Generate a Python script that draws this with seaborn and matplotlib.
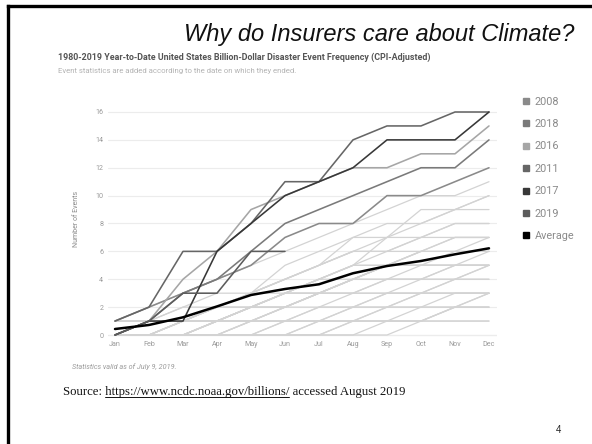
import matplotlib
matplotlib.use("Agg")
import matplotlib.pyplot as plt
import seaborn as sns
import pandas as pd
from matplotlib.lines import Line2D

# ---------------- data ----------------
months = ["Jan", "Feb", "Mar", "Apr", "May", "Jun",
          "Jul", "Aug", "Sep", "Oct", "Nov", "Dec"]

y2008 = [1, 2, 3, 4, 5, 7, 8, 8, 10, 10, 11, 12]
y2018 = [0, 1, 3, 4, 6, 8, 9, 10, 11, 12, 12, 14]
y2016 = [0, 1, 4, 6, 9, 10, 11, 12, 12, 13, 13, 15]
y2011 = [1, 2, 6, 6, 8, 11, 11, 14, 15, 15, 16, 16]
y2017 = [0, 1, 1, 6, 8, 10, 11, 12, 14, 14, 14, 16]
y2019 = [0, 1, 3, 3, 6, 6]
average = [0.43, 0.72, 1.27, 2.05, 2.87, 3.3, 3.64, 4.43, 4.95, 5.31, 5.79, 6.22]

legend_labels = ["2008", "2018", "2016", "2011", "2017", "2019", "Average"]

# other years (light grey background lines)
other_years = [
    [1, 2, 3, 4, 5, 6, 7, 8, 9, 10, 10, 11],
    [0, 1, 1, 2, 3, 5, 6, 7, 8, 8, 9, 10],
    [0, 0, 1, 2, 3, 4, 5, 6, 7, 8, 9, 10],
    [0, 0, 1, 1, 2, 3, 4, 5, 7, 9, 9, 9],
    [1, 1, 1, 2, 3, 4, 5, 6, 6, 7, 8, 8],
    [0, 1, 2, 3, 3, 4, 5, 7, 7, 7, 8, 8],
    [0, 0, 0, 1, 2, 3, 4, 5, 5, 6, 6, 7],
    [0, 0, 1, 1, 2, 3, 3, 4, 5, 6, 7, 7],
    [0, 0, 0, 1, 1, 2, 3, 4, 5, 5, 5, 6],
    [0, 1, 1, 2, 2, 3, 3, 4, 5, 5, 6, 6],
    [0, 0, 1, 1, 2, 2, 3, 3, 4, 4, 5, 5],
    [0, 0, 0, 0, 1, 2, 3, 4, 5, 5, 5, 5],
    [0, 0, 0, 0, 0, 0, 0, 1, 2, 3, 4, 5],
    [0, 0, 0, 1, 2, 2, 3, 3, 4, 4, 5, 5],
    [1, 1, 1, 1, 2, 2, 3, 4, 4, 4, 4, 4],
    [0, 0, 0, 0, 1, 1, 2, 3, 3, 4, 4, 4],
    [0, 0, 0, 1, 1, 2, 2, 2, 3, 3, 3, 3],
    [0, 0, 1, 1, 1, 2, 3, 3, 3, 3, 3, 3],
    [0, 0, 0, 0, 0, 1, 2, 2, 3, 3, 3, 3],
    [0, 0, 0, 0, 1, 1, 1, 2, 2, 2, 2, 2],
    [0, 0, 0, 1, 1, 1, 1, 1, 2, 2, 2, 2],
    [0, 0, 0, 0, 0, 0, 1, 1, 1, 1, 1, 1],
    [0, 0, 0, 0, 0, 1, 1, 1, 1, 1, 1, 1],
    [1, 1, 1, 1, 1, 1, 1, 1, 1, 1, 2, 3],
    [0, 0, 0, 0, 0, 0, 1, 2, 2, 3, 4, 5],
    [0, 1, 1, 1, 2, 3, 4, 4, 5, 6, 6, 6],
    [0, 0, 1, 2, 3, 4, 5, 6, 6, 6, 7, 7],
    [0, 0, 0, 0, 0, 0, 0, 0, 1, 2, 3, 3],
    [0, 0, 0, 0, 0, 0, 0, 1, 1, 1, 2, 2],
    [0, 0, 0, 0, 0, 0, 0, 0, 0, 1, 2, 3],
    [0, 1, 1, 2, 3, 3, 4, 5, 5, 5, 5, 5],
    [0, 0, 0, 1, 2, 3, 4, 5, 6, 7, 7, 7],
    [1, 1, 2, 2, 2, 3, 3, 4, 4, 5, 5, 5],
]

# ---------------- style ----------------
sns.set_theme(style="white")
plt.rcParams['font.family'] = ['Roboto', 'DejaVu Sans']

W, H = 592, 444
fig = plt.figure(figsize=(W / 100, H / 100), dpi=100)

unit = (335 - 112) / 16.0
x_left, x_right = 108, 497
y_bot = 335 + 0.2 * unit
y_top = 112 - 0.5 * unit
ax = fig.add_axes([x_left / W, 1 - y_bot / H, (x_right - x_left) / W, (y_bot - y_top) / H])

rows = []
for i, series in enumerate(other_years):
    for m, v in enumerate(series):
        rows.append({"year": i, "month": m, "count": v})
bg = pd.DataFrame(rows)
sns.lineplot(data=bg, x="month", y="count", units="year", estimator=None,
             color="#d3d3d3", linewidth=0.9, ax=ax, legend=False)

highlight = [
    (y2008, "#8a8a8a"),
    (y2018, "#7a7a7a"),
    (y2016, "#a6a6a6"),
    (y2011, "#666666"),
    (y2017, "#383838"),
    (y2019, "#5c5c5c"),
]
for vals, col in highlight:
    sns.lineplot(x=list(range(len(vals))), y=vals, color=col, linewidth=1.15, ax=ax)
sns.lineplot(x=list(range(len(average))), y=average, color="black", linewidth=1.8, ax=ax)

ax.set_xlim(-7 / 34, 11 + 8 / 34)
ax.set_ylim(-0.2, 16.5)
ax.set_yticks(range(0, 17, 2))
ax.set_xticks(range(12))
ax.set_xticklabels(months)
ax.yaxis.grid(True, color="#ececec", linewidth=0.8)
ax.xaxis.grid(False)
ax.set_axisbelow(True)
ax.axhline(0, color="#cfcfcf", linewidth=0.8, zorder=0.5)
for s in ax.spines.values():
    s.set_visible(False)
ax.tick_params(axis="both", length=0, labelsize=5.1, labelcolor="#9a9a9a")
ax.tick_params(axis="y", pad=3.5)
ax.tick_params(axis="x", pad=2)
ax.set_xlabel("")
ax.set_ylabel("Number of Events", fontsize=5, color="#8a8a8a")
ax.yaxis.set_label_coords((80 - x_left) / (x_right - x_left), (y_bot - 219) / (y_bot - y_top))

leg_colors = ["#8a8a8a", "#7a7a7a", "#a6a6a6", "#666666", "#383838", "#5c5c5c", "#000000"]
handles = [Line2D([], [], marker="s", linestyle="none", color=c, markersize=4.8) for c in leg_colors]
fig.legend(handles, legend_labels, loc="upper left",
           bbox_to_anchor=(522 / W, 1 - 96.5 / H), bbox_transform=fig.transFigure,
           frameon=False, fontsize=7.8, labelcolor="#8a8a8a", handlelength=0.75,
           handletextpad=0.4, labelspacing=1.15, borderpad=0, borderaxespad=0)

# ---------------- slide texts ----------------
fig.text(379 / W, 1 - 41 / H, "Why do Insurers care about Climate?", ha="center", va="baseline",
         fontsize=17, style="italic", family="Liberation Sans", color="#111111")
fig.text(58 / W, 1 - 60 / H,
         "1980-2019 Year-to-Date United States Billion-Dollar Disaster Event Frequency (CPI-Adjusted)",
         ha="left", va="baseline", fontsize=6.4, fontweight="bold", color="#555555")
fig.text(58 / W, 1 - 73 / H, "Event statistics are added according to the date on which they ended.",
         ha="left", va="baseline", fontsize=5.6, color="#b3b3b3")
fig.text(72 / W, 1 - 368.5 / H, "Statistics valid as of July 9, 2019.", ha="left", va="baseline",
         fontsize=5.2, style="italic", color="#9a9a9a")

src_x = 63 / W
src_y = 1 - 395 / H
src_fs = 9.2
prefix = "Source: "
url = "https://www.ncdc.noaa.gov/billions/"
full = prefix + url + " accessed August 2019"
fig.text(src_x, src_y, full, ha="left", va="baseline", fontsize=src_fs,
         family="Liberation Serif", color="#111111")
fig.canvas.draw()
r = fig.canvas.get_renderer()

def width_of(s):
    t = fig.text(0, 0, s, fontsize=src_fs, family="Liberation Serif")
    w = t.get_window_extent(r).width
    t.remove()
    return w

w_pre = width_of(prefix + "h") - width_of("h")
w_url = width_of(prefix + url)
u0 = src_x + w_pre / W
u1 = src_x + w_url / W
uy = src_y - 2.0 / H
fig.add_artist(Line2D([u0, u1], [uy, uy], transform=fig.transFigure, color="#111111", linewidth=0.7))

fig.text(558 / W, 1 - 430 / H, "4", ha="center", va="center", fontsize=7,
         family="Liberation Sans", color="#222222")

# slide frame
fig.add_artist(Line2D([8.3 / W, 8.3 / W], [0, 1 - 5.7 / H], transform=fig.transFigure,
                      color="black", linewidth=2.4, solid_capstyle="projecting"))
fig.add_artist(Line2D([8.3 / W, 1], [1 - 5.7 / H, 1 - 5.7 / H], transform=fig.transFigure,
                      color="black", linewidth=2.4, solid_capstyle="projecting"))

fig.savefig("out.png", dpi=100)
